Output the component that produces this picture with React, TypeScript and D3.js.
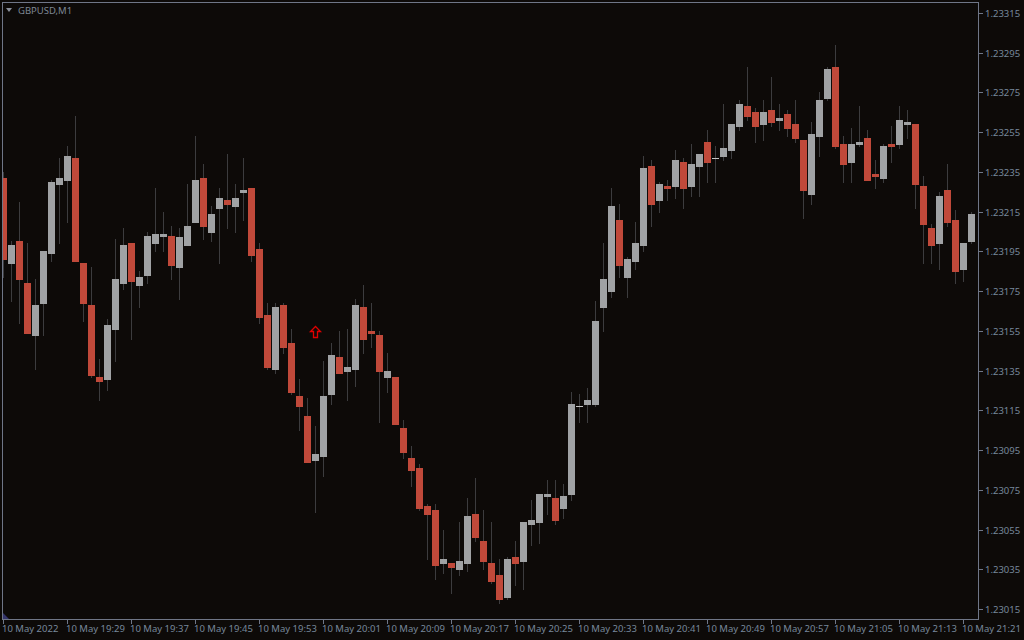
import React from "react";
import * as d3 from "d3";

const WIDTH = 1024;
const HEIGHT = 640;
const PLOT = { left: 2, top: 2, right: 978, bottom: 619 };

// GBPUSD M1 quotes, in points above 1.23000
const BASE_PRICE = 1.23;

const opens = [
  232, 189, 200, 179, 153, 169, 194, 229, 231, 242, 189, 168, 132, 131, 156, 179, 199, 178, 183, 199, 203, 203, 187, 198,
  210, 232, 205, 217, 221, 218, 225, 227, 196, 163, 136, 168, 149, 122, 112, 90, 92, 123, 142, 135, 136, 167, 155, 153,
  132, 132, 106, 91, 86, 67, 65, 38, 38, 35, 38, 63, 49, 38, 32, 21, 41, 39, 58, 59, 72, 71, 66, 73, 117, 118, 118, 167,
  175, 211, 182, 190, 198, 238, 221, 228, 228, 240, 228, 238, 250, 242, 243, 246, 258, 268, 265, 259, 266, 261, 264, 259,
  251, 224, 253, 272, 288, 249, 240, 249, 252, 234, 232, 249, 249, 259, 259, 228, 207, 199, 226, 211, 186, 200,
];

const closes = [
  191, 198, 181, 154, 168, 195, 230, 232, 243, 190, 169, 133, 130, 158, 181, 198, 180, 182, 203, 204, 204, 188, 202, 208,
  231, 208, 214, 222, 219, 222, 226, 193, 162, 137, 167, 147, 124, 117, 89, 93, 122, 143, 134, 137, 168, 151, 154, 135,
  135, 108, 94, 85, 66, 63, 37, 40, 36, 39, 62, 51, 39, 29, 20, 40, 38, 59, 60, 73, 73, 60, 72, 118, 117, 120, 160, 181,
  218, 188, 191, 199, 237, 219, 229, 227, 241, 227, 239, 244, 240, 242, 247, 259, 269, 263, 258, 265, 260, 262, 257, 252,
  226, 254, 271, 287, 248, 239, 249, 250, 231, 233, 248, 248, 261, 260, 229, 209, 198, 223, 210, 185, 199, 214,
];

const highs = [
  235, 200, 220, 199, 181, 195, 231, 242, 248, 263, 189, 187, 141, 161, 201, 207, 199, 185, 205, 227, 215, 208, 207, 229,
  253, 239, 218, 227, 244, 229, 242, 227, 199, 169, 169, 169, 156, 131, 121, 107, 140, 149, 155, 156, 171, 178, 169, 155,
  144, 132, 110, 97, 88, 68, 68, 55, 38, 59, 71, 81, 65, 59, 40, 41, 49, 59, 70, 73, 80, 80, 78, 124, 123, 126, 170, 199,
  227, 219, 192, 210, 243, 241, 230, 231, 246, 242, 249, 244, 256, 248, 269, 259, 271, 288, 267, 271, 283, 269, 266, 271,
  251, 260, 275, 288, 299, 253, 257, 268, 256, 241, 249, 258, 268, 266, 259, 233, 209, 225, 239, 216, 199, 215,
];

const lows = [
  182, 170, 159, 154, 136, 153, 190, 199, 210, 190, 160, 132, 120, 125, 140, 176, 151, 167, 179, 195, 195, 181, 171, 198,
  210, 201, 200, 189, 207, 205, 211, 190, 159, 136, 134, 144, 123, 105, 89, 64, 82, 118, 134, 120, 127, 144, 147, 109,
  124, 108, 91, 77, 65, 40, 30, 33, 23, 32, 34, 49, 35, 28, 18, 20, 27, 25, 47, 48, 63, 58, 61, 70, 109, 109, 117, 155,
  172, 182, 172, 186, 195, 208, 215, 221, 222, 217, 223, 223, 230, 230, 241, 242, 256, 261, 250, 251, 258, 256, 253, 250,
  212, 219, 243, 271, 247, 230, 230, 248, 231, 227, 230, 240, 247, 252, 217, 189, 189, 186, 208, 179, 180, 199,
];

const priceTicks = [315, 295, 275, 255, 235, 215, 195, 175, 155, 135, 115, 95, 75, 55, 35, 15];

const timeLabels = [
  "10 May 2022", "10 May 19:29", "10 May 19:37", "10 May 19:45", "10 May 19:53", "10 May 20:01", "10 May 20:09", "10 May 20:17",
  "10 May 20:25", "10 May 20:33", "10 May 20:41", "10 May 20:49", "10 May 20:57", "10 May 21:05", "10 May 21:13", "10 May 21:21",
];
const BARS_PER_LABEL = 8;

const ARROW_BAR = 39;
const ARROW_PRICE = 155;

const BG = "#0d0a08";
const UP = "#a0a2a4";
const DOWN = "#c0493a";
const WICK = "#3c3c3e";
const DOJI = "#c4c4c4";
const FRAME = "#6f7687";
const TEXT = "#77889b";
const FONT = "'Noto Sans', sans-serif";

const App = () => {
  const xScale = d3.scaleLinear().domain([0, opens.length - 1]).range([3, 971]);
  const yScale = d3.scaleLinear().domain([15, 315]).range([609, 13]);
  const px = (p: number) => Math.round(yScale(p));

  const arrowX = xScale(ARROW_BAR);
  const arrowY = px(ARROW_PRICE);

  return (
    <svg
      width={WIDTH}
      height={HEIGHT}
      style={{ position: "absolute", left: 0, top: 0, display: "block" }}
      fontFamily={FONT}
      fontSize={9.5}
    >
      <defs>
        <clipPath id="plot">
          <rect x={PLOT.left + 1} y={PLOT.top + 1} width={PLOT.right - PLOT.left - 1} height={PLOT.bottom - PLOT.top - 1} />
        </clipPath>
      </defs>
      <rect width={WIDTH} height={HEIGHT} fill={BG} />

      <g clipPath="url(#plot)" shapeRendering="crispEdges">
        {opens.map((o, i) => {
          const c = closes[i];
          const x = xScale(i);
          const up = c >= o;
          const top = px(Math.max(o, c));
          const bottom = px(Math.min(o, c));
          const hi = px(highs[i]);
          const lo = px(lows[i]);
          return (
            <g key={i}>
              <rect x={x} y={hi} width={1} height={lo - hi + 1} fill={WICK} />
              <rect
                x={x - 3}
                y={top}
                width={7}
                height={bottom - top + 1}
                fill={o === c ? DOJI : up ? UP : DOWN}
              />
            </g>
          );
        })}
      </g>

      {/* buy arrow */}
      <path
        d={`M${arrowX - 1.5},${arrowY + 6.5} V${arrowY + 0.5} H${arrowX - 4.5} L${arrowX + 0.5},${arrowY - 4.5} L${arrowX + 5.5},${arrowY + 0.5} H${arrowX + 2.5} V${arrowY + 6.5} Z`}
        fill="none"
        stroke="#e00000"
        strokeWidth={1.3}
      />

      {/* frame */}
      <path
        d={`M${PLOT.left + 0.5},${PLOT.top + 0.5} H${PLOT.right + 0.5} V${PLOT.bottom + 0.5} H${PLOT.left + 0.5} Z`}
        fill="none"
        stroke={FRAME}
        shapeRendering="crispEdges"
      />
      <path d="M3,613 L9,619 H3 Z" fill="#34346a" />

      {/* symbol caption */}
      <path d="M6,8 H12 L9,12 Z" fill="#8a8f9a" />
      <text x={18} y={14} fill="#7d8794">GBPUSD,M1</text>

      {/* price axis */}
      {priceTicks.map((p) => (
        <g key={p}>
          <rect x={979} y={px(p)} width={4} height={1} fill={FRAME} shapeRendering="crispEdges" />
          <text x={985} y={px(p) + 3.6} fill={TEXT}>{(BASE_PRICE + p / 1e5).toFixed(5)}</text>
        </g>
      ))}

      {/* time axis */}
      {timeLabels.map((label, i) => {
        const x = xScale(i * BARS_PER_LABEL);
        return (
          <g key={label}>
            <rect x={x} y={620} width={1} height={4} fill={FRAME} shapeRendering="crispEdges" />
            <text x={x - 1} y={632} fill={TEXT}>{label}</text>
          </g>
        );
      })}
    </svg>
  );
};

export default App;
